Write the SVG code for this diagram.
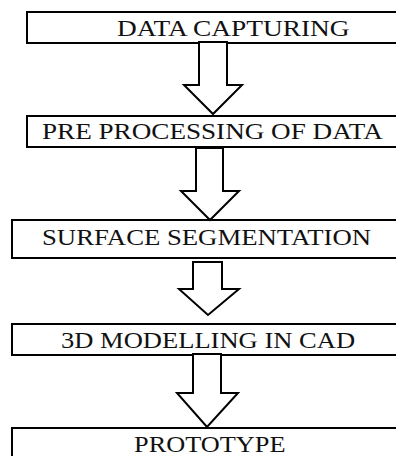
<svg xmlns="http://www.w3.org/2000/svg" width="396" height="456" viewBox="0 0 396 456">
<style>
.box{fill:#fff;stroke:#000;stroke-width:2}
.arr{fill:#fff;stroke:#000;stroke-width:2;stroke-linejoin:miter}
.t{font-family:"Liberation Serif","Times New Roman",serif;font-size:23px;fill:#111}
</style>
<rect width="396" height="456" fill="#fff"/>
<g id="node1"><rect class="box" x="27" y="12" width="380" height="31"/><text class="t" transform="translate(117,36) scale(1.19,1)">DATA CAPTURING</text></g>
<g id="node2"><rect class="box" x="27" y="116" width="380" height="31"/><text class="t" transform="translate(42,139) scale(1.18,1)">PRE PROCESSING OF DATA</text></g>
<g id="node3"><rect class="box" x="12" y="220" width="395" height="38"/><text class="t" transform="translate(42,245) scale(1.162,1)">SURFACE SEGMENTATION</text></g>
<g id="node4"><rect class="box" x="12" y="324" width="395" height="31"/><text class="t" transform="translate(61,348) scale(1.154,1)">3D MODELLING IN CAD</text></g>
<g id="node5"><rect class="box" x="12" y="428" width="395" height="40"/><text class="t" transform="translate(134,452) scale(1.144,1)">PROTOTYPE</text></g>
<g id="connectors">
<polygon class="arr" points="199,42 227,42 227,85 242,85 213,114 184,85 199,85"/>
<polygon class="arr" points="196,148 223,148 223,191 239,191 210,220 181,191 196,191"/>
<polygon class="arr" points="193,262 222,262 222,289 239,289 208,315 179,289 193,289"/>
<polygon class="arr" points="193,354 221,354 221,393 238,393 207,427 177,393 193,393"/>
</g>
</svg>
